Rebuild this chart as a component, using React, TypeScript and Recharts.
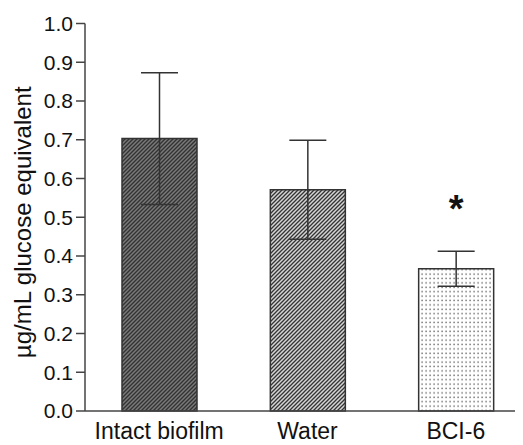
import { BarChart, Bar, XAxis, YAxis, ErrorBar, Cell, LabelList } from 'recharts'

const categories = ['Intact biofilm', 'Water', 'BCI-6']
const means = [0.703, 0.571, 0.367]
const sem = [0.17, 0.128, 0.045]
const marks = ['', '', '*']
const yTicks = [0, 0.1, 0.2, 0.3, 0.4, 0.5, 0.6, 0.7, 0.8, 0.9, 1.0]
const fills = ['url(#hatchDark)', 'url(#hatchLight)', 'url(#dots)']

const data = categories.map((name, i) => ({
  name,
  mean: means[i],
  err: sem[i],
  mark: marks[i],
}))

const FONT = 'Liberation Sans, Arial, sans-serif'

// asterisk sits above the error cap
function Star(props: any) {
  const { x, y, width, value } = props
  if (!value) return null
  return (
    <text x={x + width / 2} y={y - 47} textAnchor="middle" fontSize={38} fontWeight="bold" fontFamily={FONT} fill="#111">
      {value}
    </text>
  )
}

export default function App() {
  return (
    <BarChart
      width={515}
      height={437}
      data={data}
      margin={{ top: 15.5, right: -7, left: 0, bottom: 0 }}
    >
      <defs>
        <pattern id="hatchDark" width={4} height={4} patternUnits="userSpaceOnUse">
          <rect width={4} height={4} fill="#7a7a7a" />
          <path d="M-1,1 l2,-2 M0,4 l4,-4 M3,5 l2,-2" stroke="#333" strokeWidth={1.4} />
        </pattern>
        <pattern id="hatchLight" width={4} height={4} patternUnits="userSpaceOnUse">
          <rect width={4} height={4} fill="#d4d4d4" />
          <path d="M-1,1 l2,-2 M0,4 l4,-4 M3,5 l2,-2" stroke="#333" strokeWidth={1.3} />
        </pattern>
        <pattern id="dots" width={4} height={4.4} patternUnits="userSpaceOnUse">
          <rect width={4} height={4.4} fill="#fff" />
          <rect x={1.4} y={1.4} width={1.4} height={1.4} fill="#666" />
        </pattern>
      </defs>
      <XAxis
        dataKey="name"
        tickLine={false}
        tickSize={0}
        tickMargin={12}
        height={34}
        axisLine={{ stroke: '#444', strokeWidth: 1.5 }}
        tick={{ fill: '#111', fontSize: 23, fontFamily: FONT }}
        interval={0}
      />
      <YAxis
        domain={[0, 1]}
        ticks={yTicks}
        tickFormatter={(v: number) => v.toFixed(1)}
        width={77}
        tickSize={9}
        tickMargin={3}
        axisLine={{ stroke: '#444', strokeWidth: 1.5 }}
        tickLine={{ stroke: '#444', strokeWidth: 1.5 }}
        tick={{ fill: '#111', fontSize: 21, fontFamily: FONT }}
        label={{
          value: 'µg/mL glucose equivalent',
          angle: -90,
          position: 'insideLeft',
          offset: 14,
          dy: 5,
          style: { textAnchor: 'middle', fontSize: 24, fontFamily: FONT, fill: '#111' },
        }}
      />
      <Bar dataKey="mean" barSize={75} stroke="#333" strokeWidth={1.5} isAnimationActive={false}>
        {data.map((d, i) => (
          <Cell key={d.name} fill={fills[i]} />
        ))}
        <ErrorBar dataKey="err" width={18.5} stroke="#333" strokeWidth={1.5} direction="y" />
        <LabelList dataKey="mark" content={Star} />
      </Bar>
    </BarChart>
  )
}
